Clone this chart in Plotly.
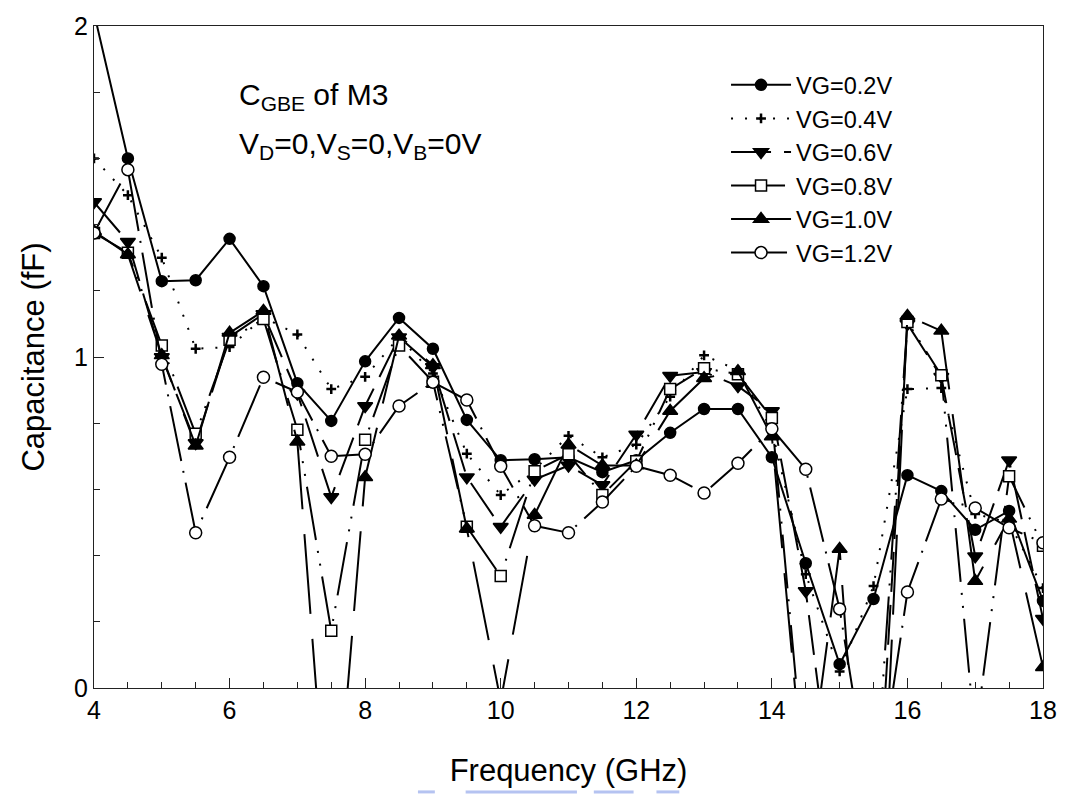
import plotly.graph_objects as go

# Frequency sweep (GHz)
freq = [4, 4.5, 5, 5.5, 6, 6.5, 7, 7.5, 8, 8.5, 9, 9.5, 10, 10.5, 11, 11.5,
        12, 12.5, 13, 13.5, 14, 14.5, 15, 15.5, 16, 16.5, 17, 17.5, 18]

# Extracted C_GBE (fF) for each gate bias
vg_02 = [2.04, 1.60, 1.229, 1.232, 1.357, 1.214, 0.921, 0.807, 0.987, 1.118,
         1.025, 0.810, 0.688, 0.691, 0.697, 0.652, 0.688, 0.771, 0.843, 0.843,
         0.697, 0.377, 0.072, 0.269, 0.643, 0.595, 0.478, 0.535, 0.263]
vg_04 = [1.60, 1.489, 1.30, 1.025, 1.03, 1.12, 1.068, 0.903, 0.940, 1.06,
         0.95, 0.708, 0.583, 0.66, 0.762, 0.697, 0.735, 0.88, 1.005, 0.96,
         0.78, 0.344, 0.05, 0.308, 0.903, 0.906, 0.526, 0.50, 0.302]
vg_06 = [1.468, 1.348, 1.00, 0.74, 1.061, 1.13, 0.89, 0.577, 0.852, 1.06,
         0.97, 0.637, 0.487, 0.63, 0.672, 0.613, 0.766, 0.943, 0.955, 0.912,
         0.837, 0.293, -0.5, -0.6, 1.10, 0.94, 0.398, 0.688, 0.209]
vg_08 = [1.375, 1.315, 1.035, 0.768, 1.052, 1.115, 0.780, 0.173, 0.750, 1.035,
         0.925, 0.487, 0.338, 0.655, 0.706, 0.583, 0.685, 0.903, 0.966, 0.948,
         0.816, -0.3, -0.5, -0.4, 1.106, 0.945, -0.15, 0.640, 0.430]
vg_10 = [1.38, 1.31, 1.005, 0.732, 1.073, 1.139, 0.744, -0.6, 0.637, 1.064,
         0.975, 0.481, -0.04, 0.523, 0.735, 0.672, 0.672, 0.837, 0.936, 0.957,
         0.76, -0.35, 0.42, -1.0, 1.124, 1.079, 0.323, 0.511, 0.063]
vg_12 = [1.375, 1.566, 0.978, 0.469, 0.697, 0.939, 0.894, 0.700, 0.706, 0.852,
         0.924, 0.870, 0.670, 0.490, 0.469, 0.562, 0.670, 0.643, 0.589, 0.679,
         0.783, 0.661, 0.239, -0.4, 0.290, 0.571, 0.544, 0.484, 0.439]

series_names = ["VG=0.2V", "VG=0.4V", "VG=0.6V", "VG=0.8V", "VG=1.0V", "VG=1.2V"]
series_values = [vg_02, vg_04, vg_06, vg_08, vg_10, vg_12]

x_ticks = [4, 6, 8, 10, 12, 14, 16, 18]
y_ticks = [0, 1, 2]

FONT = "Liberation Sans, Arial, Helvetica, sans-serif"

styles = [
    dict(dash="solid", symbol="circle", size=11, fill="black"),
    dict(dash="2px,12px", symbol="cross-thin", size=7, fill="black"),
    dict(dash="40px,13px", symbol="triangle-down", size=13, fill="black"),
    dict(dash="54px,11px,2px,11px,2px,11px", symbol="square", size=11, fill="white"),
    dict(dash="80px,25px", symbol="triangle-up", size=13, fill="black"),
    dict(dash="56px,10px,2px,10px", symbol="circle", size=12, fill="white"),
]

fig = go.Figure()
for name, vals, st in zip(series_names, series_values, styles):
    marker = dict(symbol=st["symbol"], size=st["size"], color=st["fill"],
                  line=dict(color="black", width=1.5))
    if st["symbol"] == "cross-thin":
        marker = dict(symbol="cross-thin", size=st["size"],
                      line=dict(color="black", width=2.5))
    fig.add_trace(go.Scatter(
        x=freq, y=vals, name=name, mode="lines+markers",
        line=dict(color="black", width=2, dash=st["dash"]),
        marker=marker,
    ))

axis_common = dict(
    showline=True, linecolor="#222", linewidth=1.2, mirror=True,
    showgrid=False, zeroline=False, ticks="inside", tickcolor="#222",
    tickwidth=1.2, ticklen=10, tickfont=dict(family=FONT, size=25, color="black"),
)

fig.update_xaxes(
    range=[4, 18], tickvals=x_ticks, ticktext=[str(v) for v in x_ticks],
    minor=dict(dtick=0.5, ticks="inside", ticklen=6, tickcolor="#222", tickwidth=1.2),
    title=dict(text="Frequency (GHz)", font=dict(family=FONT, size=31, color="black"),
               standoff=36),
    **axis_common,
)
fig.update_yaxes(
    range=[0, 2], tickvals=y_ticks, ticktext=[str(v) for v in y_ticks],
    minor=dict(dtick=0.2, ticks="inside", ticklen=6, tickcolor="#222", tickwidth=1.2),
    title=dict(text="Capacitance (fF)", font=dict(family=FONT, size=31, color="black"),
               standoff=20),
    **axis_common,
)

fig.add_annotation(
    text="C<sub>GBE</sub> of M3", xref="paper", yref="paper",
    x=0.1503, y=0.894, xanchor="left", yanchor="middle", showarrow=False,
    font=dict(family=FONT, size=30, color="black"),
)
fig.add_annotation(
    text="V<sub>D</sub>=0,V<sub>S</sub>=0,V<sub>B</sub>=0V", xref="paper", yref="paper",
    x=0.1503, y=0.820, xanchor="left", yanchor="middle", showarrow=False,
    font=dict(family=FONT, size=30, color="black"),
)

# faint blue strip along the bottom edge of the page
for x0, x1 in [(420, 437), (468, 580), (597, 637), (660, 683)]:
    fig.add_shape(type="line", xref="paper", yref="paper",
                  x0=(x0 - 94) / 955, x1=(x1 - 94) / 955,
                  y0=(688 - 793) / 669, y1=(688 - 793) / 669,
                  line=dict(color="rgba(150,170,235,0.7)", width=3))

fig.update_layout(
    width=1069, height=796,
    margin=dict(l=94, r=20, t=19, b=108),
    paper_bgcolor="white", plot_bgcolor="white",
    font=dict(family=FONT, color="black"),
    showlegend=True,
    legend=dict(
        x=0.666, y=0.944, xanchor="left", yanchor="top",
        bgcolor="rgba(0,0,0,0)", borderwidth=0,
        font=dict(family=FONT, size=23.5, color="black"),
        itemwidth=60, tracegroupgap=0,
    ),
)

fig.write_html("out.html")
